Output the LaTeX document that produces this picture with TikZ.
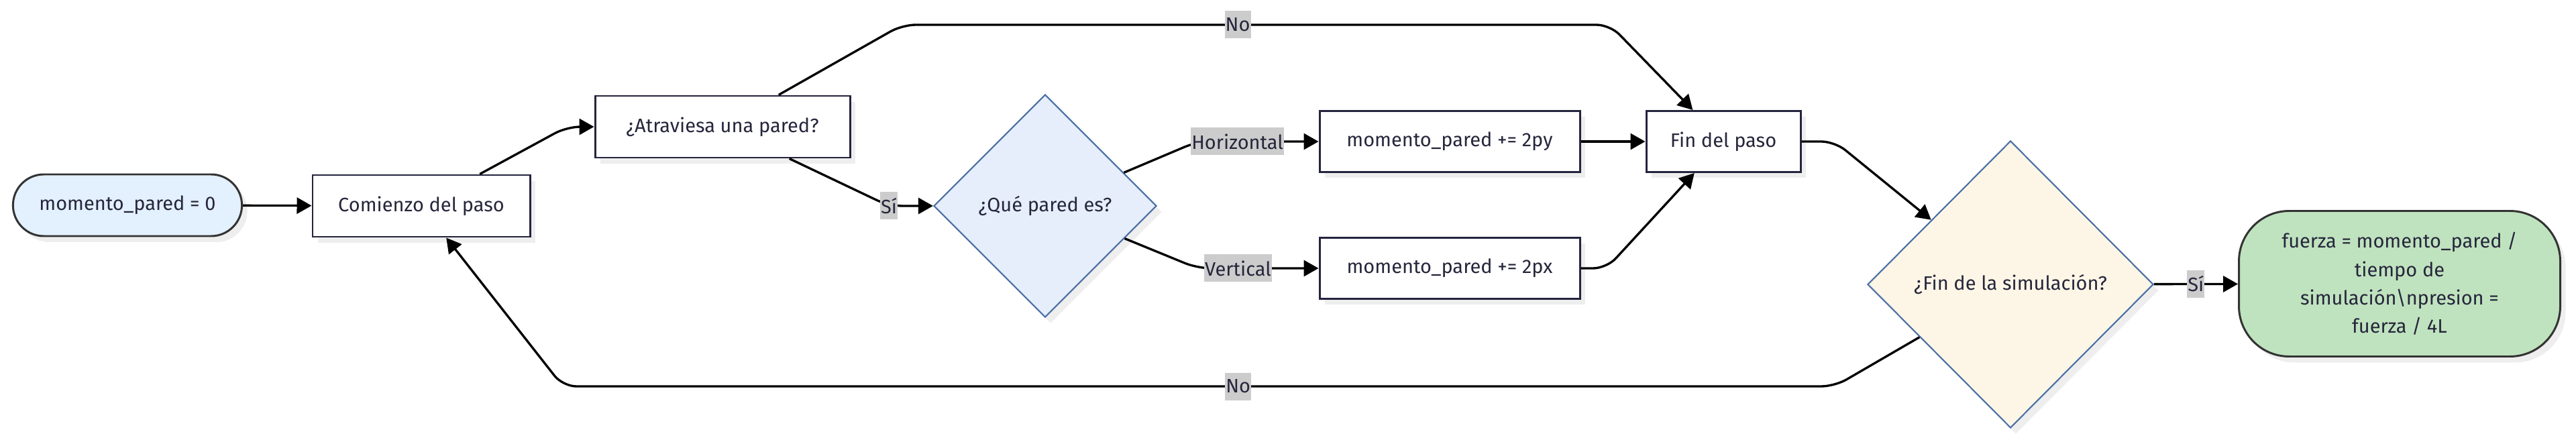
\documentclass[tikz,border=0pt]{standalone}
\usepackage{fontspec}
\setmainfont{Fira Sans}
\usepackage{tikz}
\usetikzlibrary{arrows.meta,positioning,shapes.geometric,shapes.misc,shadows}
\definecolor{Ink}{HTML}{26263C}
\definecolor{BoxLine}{HTML}{24243E}
\definecolor{PillLine}{HTML}{333333}
\definecolor{SteelBlue}{HTML}{4A6FA5}
\definecolor{IceBlue}{HTML}{E6EEFC}
\definecolor{SkyPill}{HTML}{E3F0FD}
\definecolor{Cream}{HTML}{FDF6E6}
\definecolor{Mint}{HTML}{C0E3BF}
\definecolor{TagGray}{HTML}{CCCCCC}
\definecolor{Shade}{HTML}{EEEEEE}
\newcommand{\flowfont}{\fontsize{16.5}{24}\selectfont}
\tikzset{
  flowarrow/.style={-{Triangle[length=4.4mm,width=4.8mm]}, line width=1.9pt, draw=black, rounded corners=4mm},
  softshadow/.style={drop shadow={shadow xshift=1.6mm, shadow yshift=-1.8mm, fill=Shade, opacity=1}},
  stepbox/.style={rectangle, draw=BoxLine, fill=white, line width=1.7pt, text=Ink, font=\flowfont, minimum height=1.84cm, align=center, softshadow},
  pillnode/.style={rounded rectangle, draw=PillLine, line width=1.7pt, text=Ink, font=\flowfont, minimum height=1.84cm, align=center, softshadow},
  asknode/.style={diamond, shape aspect=1, draw=SteelBlue, line width=1.2pt, text=Ink, font=\flowfont, inner sep=0pt, align=center, softshadow},
  edgetag/.style={sharp corners, draw=none, fill=TagGray, text=Ink, font=\flowfont, inner xsep=0.6pt, inner ysep=0pt, minimum height=8.2mm},
}

\begin{document}
\begin{tikzpicture}[x=1cm,y=1cm]
\path[use as bounding box] (0,0) rectangle (76.8,13.1);
\fill[white] (0,0) rectangle (76.8,13.1);

\node[pillnode, fill=SkyPill, minimum width=7.06cm] (init) at (3.80,6.98) {momento\_pared = 0};
\node[stepbox, minimum width=6.48cm] (inicio) at (12.56,6.96) {Comienzo del paso};
\node[stepbox, minimum width=7.6cm] (cruza) at (21.54,9.32) {¿Atraviesa una pared?};
\node[asknode, fill=IceBlue, minimum width=6.64cm, minimum height=6.64cm] (pared) at (31.16,6.96) {¿Qué pared es?};
\node[stepbox, minimum width=7.76cm, minimum height=1.82cm] (sumapy) at (43.22,8.88) {momento\_pared += 2py};
\node[stepbox, minimum width=7.76cm, minimum height=1.82cm] (sumapx) at (43.22,5.10) {momento\_pared += 2px};
\node[stepbox, minimum width=4.6cm, minimum height=1.82cm] (finpaso) at (51.38,8.88) {Fin del paso};
\node[asknode, fill=Cream, minimum width=8.52cm, minimum height=8.56cm] (finsim) at (59.94,4.62) {¿Fin de la simulación?};
\node[rectangle, rounded corners=15mm, draw=PillLine, fill=Mint, line width=1.7pt, text=Ink, font=\flowfont, align=center, softshadow, minimum width=9.58cm, minimum height=4.34cm] (fuerza) at (71.54,4.64) {fuerza = momento\_pared /\\tiempo de\\simulación\textbackslash npresion =\\fuerza / 4L};

% bends of the connectors
\coordinate (subeA) at (16.9,9.32);
\coordinate (siA) at (26.5,6.96);
\coordinate (noA) at (26.9,12.36);
\coordinate (noB) at (48.0,12.36);
\coordinate (horA) at (35.7,8.88);
\coordinate (verA) at (35.7,5.10);
\coordinate (bajaA) at (47.9,5.10);
\coordinate (simA) at (54.7,8.88);
\coordinate (vuelveA) at (54.7,1.58);
\coordinate (vuelveB) at (16.78,1.58);

\draw[flowarrow] (init) -- (inicio);
\draw[flowarrow] (inicio) -- (subeA) -- (cruza);
\draw[flowarrow] (cruza) -- (siA) node[edgetag] (tagsi) {Sí} -- (pared);
\draw[flowarrow] (cruza) -- (noA) -- node[edgetag, pos=0.474] (tagnoarriba) {No} (noB) -- (finpaso);
\draw[flowarrow] (pared) -- (horA) -- node[edgetag, pos=0.33] (taghor) {Horizontal} (sumapy);
\draw[flowarrow] (pared) -- (verA) -- node[edgetag, pos=0.335] (tagver) {Vertical} (sumapx);
\draw[flowarrow] (sumapy) -- (finpaso);
\draw[flowarrow] (sumapx) -- (bajaA) -- (finpaso);
\draw[flowarrow] (finpaso) -- (simA) -- (finsim);
\draw[flowarrow] (finsim) -- node[edgetag] (tagsifin) {Sí} (fuerza);
\draw[flowarrow] (finsim) -- (vuelveA) -- node[edgetag, pos=0.469] (tagnoabajo) {No} (vuelveB) -- (inicio);
\end{tikzpicture}
\end{document}
